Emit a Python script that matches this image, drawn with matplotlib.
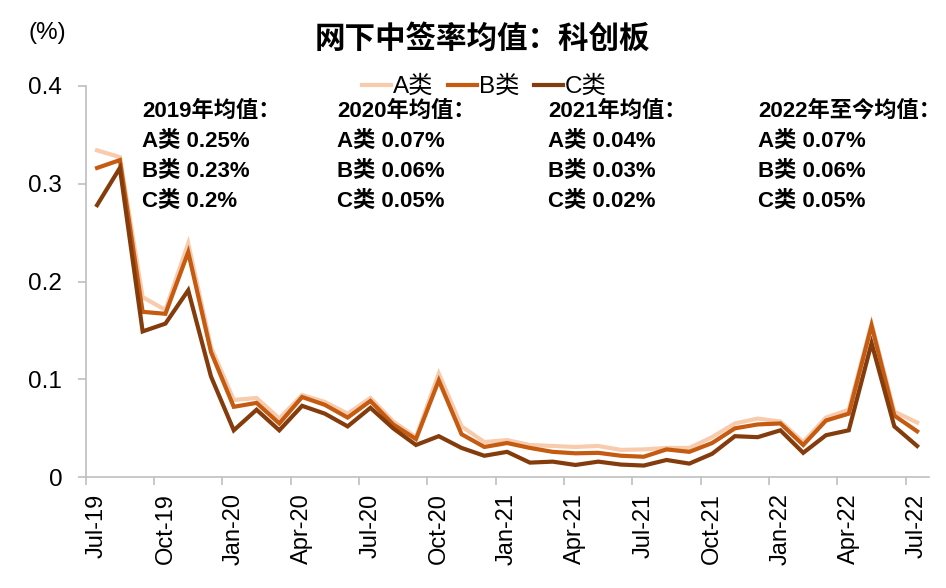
import matplotlib
matplotlib.use("Agg")
import matplotlib.pyplot as plt
from matplotlib.ticker import FixedLocator, FuncFormatter

plt.rcParams['font.family'] = ['Liberation Sans', 'Noto Sans CJK SC', 'DejaVu Sans']

# ---------------- data ----------------
months = ['Jul-19', 'Aug-19', 'Sep-19', 'Oct-19', 'Nov-19', 'Dec-19',
          'Jan-20', 'Feb-20', 'Mar-20', 'Apr-20', 'May-20', 'Jun-20',
          'Jul-20', 'Aug-20', 'Sep-20', 'Oct-20', 'Nov-20', 'Dec-20',
          'Jan-21', 'Feb-21', 'Mar-21', 'Apr-21', 'May-21', 'Jun-21',
          'Jul-21', 'Aug-21', 'Sep-21', 'Oct-21', 'Nov-21', 'Dec-21',
          'Jan-22', 'Feb-22', 'Mar-22', 'Apr-22', 'May-22', 'Jun-22', 'Jul-22']
tick_labels = ['Jul-19', 'Oct-19', 'Jan-20', 'Apr-20', 'Jul-20', 'Oct-20', 'Jan-21',
               'Apr-21', 'Jul-21', 'Oct-21', 'Jan-22', 'Apr-22', 'Jul-22']

series_a = [0.334, 0.327, 0.184, 0.171, 0.239, 0.133, 0.079, 0.081, 0.060, 0.084,
            0.077, 0.065, 0.081, 0.057, 0.041, 0.106, 0.052, 0.036, 0.038, 0.033,
            0.032, 0.031, 0.032, 0.028, 0.0285, 0.030, 0.030, 0.041, 0.055, 0.060,
            0.057, 0.036, 0.061, 0.069, 0.157, 0.067, 0.056]
series_b = [0.316, 0.324, 0.169, 0.167, 0.230, 0.128, 0.072, 0.076, 0.055, 0.082,
            0.074, 0.061, 0.078, 0.054, 0.039, 0.099, 0.044, 0.031, 0.035, 0.030,
            0.026, 0.0245, 0.025, 0.022, 0.021, 0.0285, 0.026, 0.035, 0.050, 0.054,
            0.055, 0.033, 0.058, 0.065, 0.155, 0.063, 0.047]
series_c = [0.278, 0.316, 0.149, 0.157, 0.191, 0.103, 0.048, 0.069, 0.048, 0.073,
            0.065, 0.052, 0.071, 0.050, 0.033, 0.042, 0.030, 0.022, 0.026, 0.015,
            0.016, 0.0126, 0.016, 0.013, 0.012, 0.0177, 0.014, 0.024, 0.042, 0.041,
            0.048, 0.025, 0.043, 0.048, 0.137, 0.052, 0.032]
series_names = ['A类', 'B类', 'C类']

yticks = [0, 0.1, 0.2, 0.3, 0.4]

annot_heads = ['2019年均值：', '2020年均值：', '2021年均值：', '2022年至今均值：']
annot_a = ['0.25%', '0.07%', '0.04%', '0.07%']
annot_b = ['0.23%', '0.06%', '0.03%', '0.06%']
annot_c = ['0.2%', '0.05%', '0.02%', '0.05%']

title = '网下中签率均值：科创板'
unit = '(%)'

# ---------------- figure ----------------
W, H = 946, 588
fig = plt.figure(figsize=(W / 100, H / 100), dpi=100)
ax = fig.add_axes([85.7 / W, 1 - 477.3 / H, (928.5 - 85.7) / W, (477.3 - 85.7) / H])

colors = ['#F8CBAD', '#C55A11', '#843C0C']
x = list(range(len(months)))
for vals, name, col in zip([series_a, series_b, series_c], series_names, colors):
    ax.plot(x, vals, color=col, lw=3.0, label=name, solid_joinstyle='miter')

ax.set_xlim(-0.5, len(months) - 0.5)
ax.set_ylim(0, 0.4)

spine_col = '#BFBFBF'
for s in ['top', 'right']:
    ax.spines[s].set_visible(False)
for s in ['left', 'bottom']:
    ax.spines[s].set_color(spine_col)
    ax.spines[s].set_linewidth(1.2)

tick_pos = [months.index(t) for t in tick_labels]
ax.set_xticks(tick_pos)
ax.set_xticklabels(tick_labels, rotation=90, fontsize=17)
ax.xaxis.set_minor_locator(FixedLocator([p - 0.5 for p in tick_pos[:-1]] + [tick_pos[-1] - 0.5]))
ax.tick_params(axis='x', which='major', length=0, pad=11.5)
ax.tick_params(axis='x', which='minor', length=5.5, width=1.2, color=spine_col)

ax.set_yticks(yticks)
ax.yaxis.set_major_formatter(FuncFormatter(lambda v, p: '0' if v == 0 else f'{v:.1f}'))
ax.tick_params(axis='y', which='major', length=5.8, width=1.2, color=spine_col,
               pad=11, labelsize=17.5)

# legend
leg = fig.legend(loc='center', bbox_to_anchor=(484 / W, 1 - 87 / H), ncol=3,
                 frameon=False, fontsize=17.5, handlelength=1.2, handletextpad=0.08,
                 columnspacing=0.6, borderpad=0, borderaxespad=0)

# title and unit
fig.text(482 / W, 1 - 40 / H, title, ha='center', va='center', fontsize=22,
         fontweight='bold')
fig.text(28 / W, 1 - 33 / H, unit, ha='left', va='center', fontsize=17.5)

# annotation blocks
block_x = [142, 337, 548, 758]
base_y = [117, 147, 177, 207]
for bx, head, a, b, c in zip(block_x, annot_heads, annot_a, annot_b, annot_c):
    lines = [head, 'A类 ' + a, 'B类 ' + b, 'C类 ' + c]
    for ln, by in zip(lines, base_y):
        fig.text(bx / W, 1 - by / H, ln, ha='left', va='baseline', fontsize=16,
                 fontweight='bold')

fig.savefig('out.png', dpi=100)
